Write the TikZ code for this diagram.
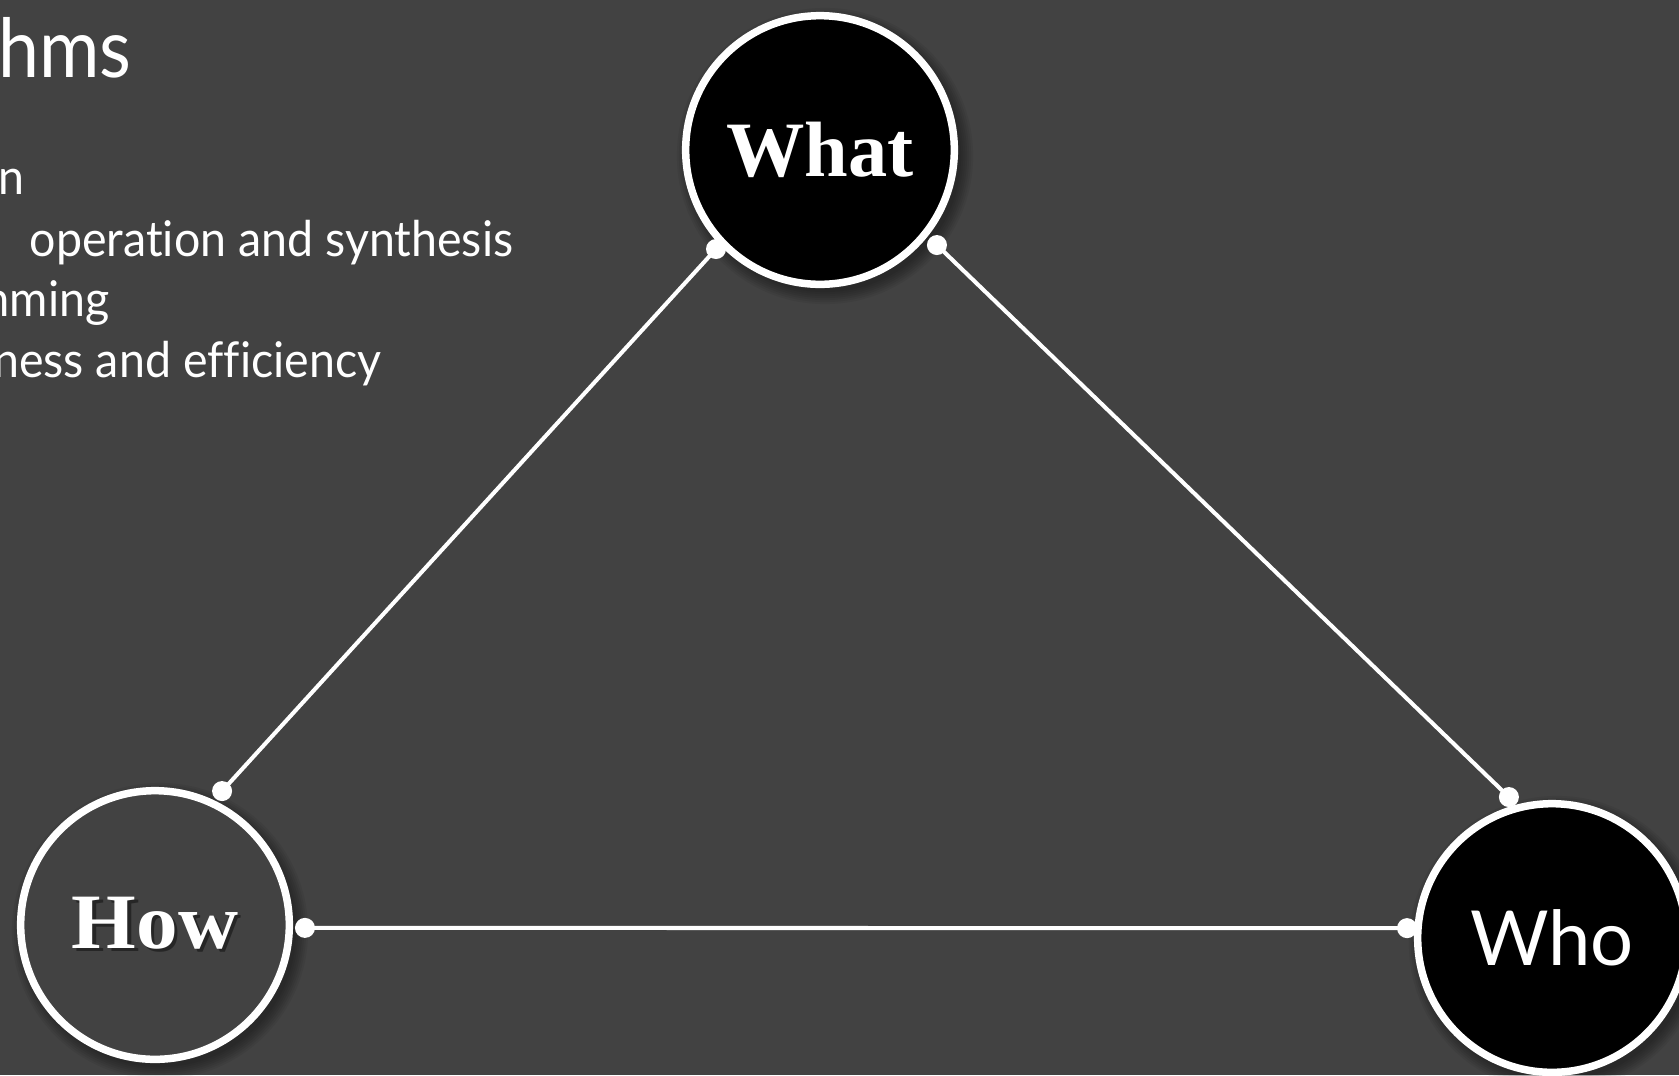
\documentclass[tikz,border=0pt]{standalone}
\usepackage{fontspec}
\setmainfont{Liberation Serif}
\newfontfamily\gill[Ligatures=NoCommon, FakeStretch=0.945]{Lato}
\newfontfamily\gillhead[Ligatures=NoCommon, FakeStretch=0.9]{Lato}
\newfontfamily\gillword{Lato}
\usetikzlibrary{calc}
\definecolor{slate}{HTML}{424242}
\definecolor{shade}{HTML}{262626}
\begin{document}
\begin{tikzpicture}[x=0.01cm,y=0.01cm,
  ring/.style={circle, draw=white, line width=2.13pt, minimum size=2.685cm, inner sep=0pt, outer sep=0pt},
  link/.style={draw=white, line width=1.15pt},
  knob/.style={fill=white},
  serifword/.style={font=\fontsize{22.3pt}{26pt}\selectfont\bfseries, text=white, inner sep=0pt},
  sansword/.style={font=\gillword\fontsize{21.6pt}{25pt}\selectfont, text=white, inner sep=0pt},
  bodyline/.style={font=\gill\fontsize{14pt}{17pt}\selectfont, text=white, inner sep=0pt},
  titleline/.style={font=\gillhead\fontsize{23.2pt}{27pt}\selectfont, text=white, inner sep=0pt},
]
\useasboundingbox (0,0) rectangle (1679,-1075);
\fill[slate] (0,0) rectangle (1679,-1075);
\clip (0,0) rectangle (1679,-1075);

% heading and bullet lines
\node[titleline, anchor=base east] (title) at (132,-77) {hms};
\node[bodyline, anchor=base east] (l1) at (25,-194) {n};
\node[bodyline, anchor=base west] (l2) at (29,-256) {operation and synthesis};
\node[bodyline, anchor=base east] (l3) at (110,-316) {mming};
\node[bodyline, anchor=base east] (l4) at (382,-377) {ness and efficiency};

% circle centres
\coordinate (cWhat) at (820,-150);
\coordinate (cHow) at (155,-925);
\coordinate (cWho) at (1552,-938);

% soft drop shadows under the circles
\foreach \c in {cWhat,cHow,cWho}{
  \foreach \k in {0,...,6}{
    \fill[black, opacity=0.06] ($(\c)+(5,-6)$) circle[radius=1.36cm+\k*0.02cm];
  }
}

% the three circles
\node[ring, fill=black] (what) at (cWhat) {};
\node[ring, fill=slate] (how) at (cHow) {};
\node[ring, fill=black] (who) at (cWho) {};

% labels (the one on the grey disc carries a dark drop shadow)
\node[serifword] (whatlabel) at (cWhat) {What};
\node[serifword] (howlabel) at (cHow)
  {\scalebox{1.06}[1]{\rlap{\kern0.9pt\raisebox{-0.9pt}{\color{shade}How}}How}};
\node[sansword] (wholabel) at (cWho) {Who};

% connector end points on the rims
\coordinate (whatL) at ($(what.center)+(223.6:143.6)$);
\coordinate (whatR) at ($(what.center)+(320.9:150.7)$);
\coordinate (howT) at ($(how.center)+(63.4:149.8)$);
\coordinate (howR) at ($(how.center)+(-1.1:150)$);
\coordinate (whoT) at ($(who.center)+(107.0:147.4)$);
\coordinate (whoL) at ($(who.center)+(176.1:145.3)$);

% connectors
\draw[link] (whatL) -- (howT);
\draw[link] (whatR) -- (whoT);
\draw[link] (howR) -- (whoL);
\foreach \p in {whatL,whatR,howT,howR,whoT,whoL}{
  \fill[knob] (\p) circle[radius=0.1cm];
}
\end{tikzpicture}
\end{document}
